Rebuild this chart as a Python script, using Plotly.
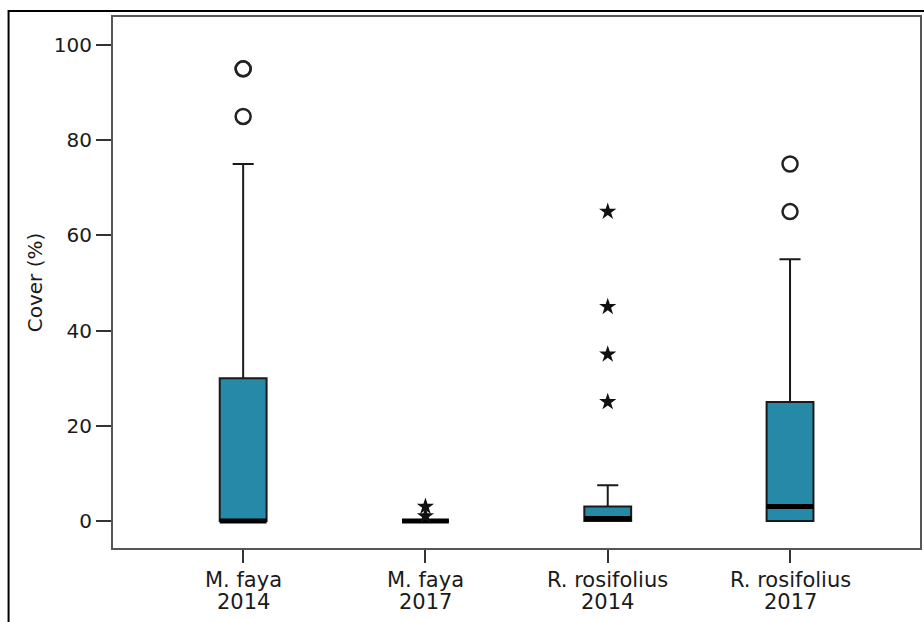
import plotly.graph_objects as go

species = ["M. faya", "M. faya", "R. rosifolius", "R. rosifolius"]
years = ["2014", "2017", "2014", "2017"]
q1 = [0, 0, 0, 0]
median = [0, 0, 0.5, 3]
q3 = [30, 0, 3, 25]
lower_fence = [0, 0, 0, 0]
upper_fence = [75, 0, 7.5, 55]
# outliers: (category index, value)
circle_outliers = {0: [85, 95, 95], 3: [65, 75]}
star_outliers = {1: [1, 3], 2: [25, 35, 45, 65]}
y_ticks = [0, 20, 40, 60, 80, 100]

BOX_W = 0.257
FILL = "#2689a8"
font_family = "DejaVu Sans, sans-serif"

fig = go.Figure()
xs = list(range(len(species)))
for i in xs:
    fig.add_trace(go.Box(
        x=[i], q1=[q1[i]], median=[median[i]], q3=[q3[i]],
        lowerfence=[lower_fence[i]], upperfence=[upper_fence[i]],
        width=BOX_W, whiskerwidth=0.45, fillcolor=FILL,
        line=dict(color="#1a1a1a", width=2), boxpoints=False,
        showlegend=False, hoverinfo="skip",
    ))
    # thick median line
    fig.add_trace(go.Scatter(
        x=[i - BOX_W / 2, i + BOX_W / 2], y=[median[i], median[i]],
        mode="lines", line=dict(color="black", width=5),
        showlegend=False, hoverinfo="skip",
    ))
    # two-line category label
    fig.add_annotation(x=i, xref="x", y=-0.0603, yref="paper", text=species[i],
                       showarrow=False, yanchor="middle",
                       font=dict(size=21, color="#1a1a1a", family=font_family))
    fig.add_annotation(x=i, xref="x", y=-0.1017, yref="paper", text=years[i],
                       showarrow=False, yanchor="middle",
                       font=dict(size=21, color="#1a1a1a", family=font_family))

cx, cy = [], []
for k, vals in circle_outliers.items():
    for v in vals:
        cx.append(k); cy.append(v)
fig.add_trace(go.Scatter(
    x=cx, y=cy, mode="markers",
    marker=dict(symbol="circle-open", size=15, color="#222222", line=dict(width=2.5, color="#222222")),
    showlegend=False, hoverinfo="skip",
))
sx, sy = [], []
for k, vals in star_outliers.items():
    for v in vals:
        sx.append(k); sy.append(v)
fig.add_trace(go.Scatter(
    x=sx, y=sy, mode="markers",
    marker=dict(symbol="star", size=13, color="#111111", line=dict(width=0)),
    showlegend=False, hoverinfo="skip",
))

# outer frame
fig.add_shape(type="rect", xref="paper", yref="paper",
              x0=-0.1294, x1=1.05, y0=-0.3, y1=1.0113,
              line=dict(color="black", width=2), layer="below")

fig.update_layout(
    width=924, height=622,
    margin=dict(l=113, r=2, t=17, b=74),
    paper_bgcolor="white", plot_bgcolor="white",
    font=dict(family=font_family, size=20, color="#1a1a1a"),
    xaxis=dict(
        range=[-0.714, 3.713], tickmode="array", tickvals=xs, ticktext=["" for _ in xs],
        showline=True, linecolor="#555555", linewidth=2, mirror=True,
        ticks="outside", ticklen=13, tickwidth=2, tickcolor="#333333",
        showgrid=False, zeroline=False,
    ),
    yaxis=dict(
        range=[-5.7, 105.9], tickmode="array", tickvals=y_ticks,
        showline=True, linecolor="#555555", linewidth=2, mirror=True,
        ticks="outside", ticklen=15, tickwidth=2, tickcolor="#333333",
        showgrid=False, zeroline=False, tickfont=dict(size=20),
        title=dict(text="Cover (%)", font=dict(size=20), standoff=6),
    ),
)

fig.write_html("out.html")
